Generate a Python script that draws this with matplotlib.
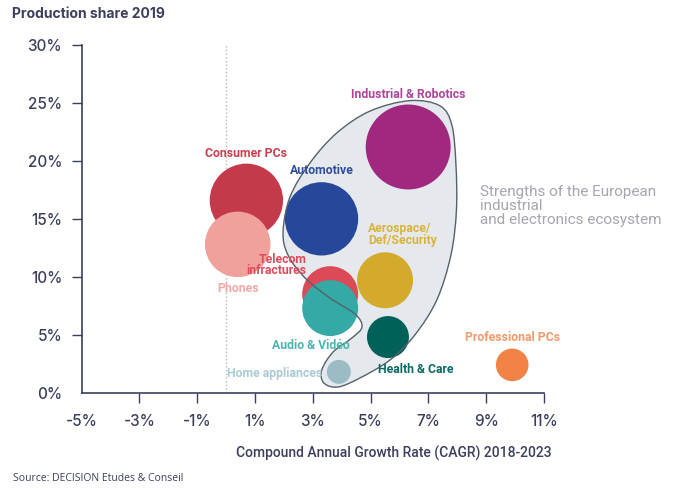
import numpy as np
import matplotlib.pyplot as plt
import matplotlib
from matplotlib.path import Path
from matplotlib.patches import PathPatch

matplotlib.rcParams.update({'font.family': ['Roboto', 'DejaVu Sans'], 'font.size': 10})

dark = '#3b3f5c'

segments = ['Industrial & Robotics', 'Consumer PCs', 'Phones', 'Automotive', 'Aerospace/\nDef/Security',
            'Telecom\ninfractures', 'Audio & Vidéo', 'Health & Care', 'Home appliances', 'Professional PCs']
cagr = [6.3, 0.7, 0.4, 3.3, 5.5, 3.6, 3.6, 5.6, 3.9, 9.9]          # %
share = [21.2, 16.6, 12.8, 15.0, 9.7, 8.5, 7.3, 4.8, 1.8, 2.4]      # %
bubble = [1806, 1347, 1076, 1347, 784, 784, 784, 441, 144, 266]     # relative size
colors = ['#a0287f', '#c43a4b', '#f0a19c', '#27489a', '#d4aa2c',
          '#dc4a57', '#35a9a5', '#00615a', '#9bbcc5', '#f08345']
label_colors = ['#b0449a', '#c8404f', '#f0aaa6', '#2f4d9e', '#d8b53a',
                '#e04a5a', '#4ab5b0', '#0b6a62', '#a9cbd3', '#f29a6a']

# label placement (offset in points from bubble centre, alignment)
label_pos = {
    'Industrial & Robotics': ((0, 38), 'center'),
    'Consumer PCs': ((0, 34), 'center'),
    'Phones': ((0, -32), 'center'),
    'Automotive': ((0, 35), 'center'),
    'Aerospace/\nDef/Security': ((-12, 33), 'left'),
    'Telecom\ninfractures': ((-17, 21), 'right'),
    'Audio & Vidéo': ((-14, -27), 'center'),
    'Health & Care': ((20, -23), 'center'),
    'Home appliances': ((-12, -1), 'right'),
    'Professional PCs': ((0, 20), 'center'),
}

# outline of the "European strengths" area, in data units
blob_x = [6.36, 7.40, 7.81, 7.95, 7.97, 7.78, 7.29, 6.53, 5.67, 4.63, 3.87, 3.38, 3.31,
          3.70, 4.35, 4.70, 4.46, 3.59, 2.73, 2.14, 1.97, 2.21, 2.90, 3.83, 4.98]
blob_y = [25.20, 24.75, 23.10, 19.82, 15.76, 11.88, 8.00, 4.98, 2.82, 1.27, 0.49, 0.84, 1.96,
          3.51, 4.72, 5.67, 6.79, 8.17, 9.90, 11.88, 13.87, 16.89, 19.82, 22.41, 24.30]

fig = plt.figure(figsize=(6.74, 4.88), dpi=100)
ax = fig.add_axes([0.1212, 0.1953, 0.6859, 0.7125])

# smooth closed curve through the outline points (Catmull-Rom -> cubic bezier)
P = np.column_stack([blob_x, blob_y])
n = len(P)
verts = [P[0]]
codes = [Path.MOVETO]
for i in range(n):
    p0, p1, p2, p3 = P[i - 1], P[i], P[(i + 1) % n], P[(i + 2) % n]
    verts += [p1 + (p2 - p0) / 6, p2 - (p3 - p1) / 6, p2]
    codes += [Path.CURVE4] * 3
blob = Path(verts, codes)
ax.add_patch(PathPatch(blob, facecolor='#e5e9ee', edgecolor='none', zorder=1))
ax.add_patch(PathPatch(blob, facecolor='none', edgecolor='#55616b', lw=1.0, zorder=3))

ax.axvline(0, color='#b8b8b8', ls=':', lw=1, zorder=0)

sizes = [b * 2.07 for b in bubble]
for i in range(len(segments)):
    ax.scatter(cagr[i], share[i], s=sizes[i], color=colors[i], edgecolors='none', zorder=2)
    (dx, dy), ha = label_pos[segments[i]]
    ax.annotate(segments[i], xy=(cagr[i], share[i]), xytext=(dx, dy), textcoords='offset points',
                ha=ha, va='center', color=label_colors[i], fontsize=8.8, fontweight='bold',
                linespacing=0.85, zorder=4)

ax.text(8.78, 16.1, 'Strengths of the European\nindustrial\nand electronics ecosystem',
        color='#a5a6ae', fontsize=11, ha='left', va='center', linespacing=1.0)

ax.set_xlim(-5, 11)
ax.set_ylim(0, 30)
ax.set_xticks(range(-5, 12, 2))
ax.set_xticklabels([f'{v}%' for v in range(-5, 12, 2)], family='Inter', fontweight='medium')
ax.set_yticks(range(0, 31, 5))
ax.set_yticklabels([f'{v}%' for v in range(0, 31, 5)], family='Inter', fontweight='medium')
for s in ['top', 'right']:
    ax.spines[s].set_visible(False)
for s in ['left', 'bottom']:
    ax.spines[s].set_color(dark)
    ax.spines[s].set_linewidth(1.2)
ax.tick_params(colors=dark, labelsize=11, length=7, width=1)
ax.tick_params(axis='x', pad=8)
ax.tick_params(axis='y', pad=7)
ax.xaxis.get_major_ticks()[0].tick1line.set_visible(False)
ax.yaxis.get_major_ticks()[0].tick1line.set_visible(False)

ax.set_xlabel('Compound Annual Growth Rate (CAGR) 2018-2023', color=dark, fontsize=10,
              fontweight='medium')
ax.xaxis.set_label_coords(0.676, -0.152)

fig.text(0.018, 0.971, 'Production share 2019', color=dark, fontsize=10, fontweight='bold',
         va='center', family='Inter')
fig.text(0.019, 0.02, 'Source: DECISION Etudes & Conseil', color=dark, fontsize=7.5,
         va='center', family='Open Sans')

fig.savefig('out.png', dpi=100, facecolor='white')
